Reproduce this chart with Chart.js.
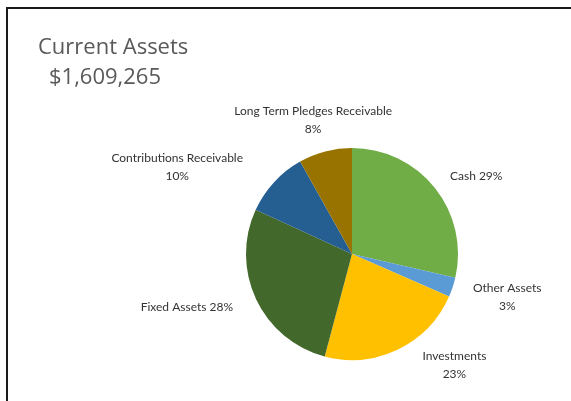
<!DOCTYPE html>
<html>
<head>
<meta charset="utf-8">
<script src="https://cdn.jsdelivr.net/npm/chart.js@4/dist/chart.umd.min.js"></script>
<style>
  html, body { margin: 0; padding: 0; background: #fff; }
  #wrap { position: relative; width: 571px; height: 401px; overflow: hidden; }
  #frame { position: absolute; left: 6px; top: 7px; width: 600px; height: 420px;
           border-left: 2px solid #1a1a1a; border-top: 2px solid #1a1a1a; }
  .ttl { position: absolute; font-family: "Open Sans", sans-serif; font-size: 22px;
         line-height: 30px; color: #595959; white-space: nowrap; }
  #t1 { left: 38px; top: 30px; }
  #t2 { left: 49px; top: 60px; }
  canvas { position: absolute; left: 0; top: 0; }
</style>
</head>
<body>
<div id="wrap">
  <div id="frame"></div>
  <canvas id="pie" width="571" height="401"></canvas>
  <div class="ttl" id="t1">Current Assets</div>
  <div class="ttl" id="t2"></div>
</div>
<script>
const categories = ['Cash', 'Other Assets', 'Investments', 'Fixed Assets', 'Contributions Receivable', 'Long Term Pledges Receivable'];
const amounts = [460265, 48000, 363000, 446000, 161000, 131000];
const sliceColors = ['#70AD47', '#5B9BD5', '#FFC000', '#43682B', '#255E91', '#997300'];

const total = amounts.reduce((a, b) => a + b, 0);
document.getElementById('t2').textContent = '$' + total.toLocaleString('en-US');

// label layout: single-line or two-line, and offset from the arc's outer midpoint
const labelInline = [true, false, false, true, false, false];
const labelNudge = [[35, -7], [47, 7], [53, 8], [-62, 5], [-91, -10], [-10, -24]];

const outsideLabels = {
  id: 'outsideLabels',
  afterDatasetsDraw(chart) {
    const ctx = chart.ctx;
    const meta = chart.getDatasetMeta(0);
    const data = chart.data.datasets[0].data;
    const sum = data.reduce((a, b) => a + b, 0);
    ctx.save();
    ctx.font = '12px Lato, sans-serif';
    ctx.fillStyle = '#333333';
    ctx.textAlign = 'center';
    ctx.textBaseline = 'middle';
    meta.data.forEach((arc, i) => {
      const mid = (arc.startAngle + arc.endAngle) / 2;
      const r = arc.outerRadius + 8;
      const x = arc.x + Math.cos(mid) * r + labelNudge[i][0];
      const y = arc.y + Math.sin(mid) * r + labelNudge[i][1];
      const pct = Math.round(data[i] / sum * 100) + '%';
      const name = chart.data.labels[i];
      if (labelInline[i]) {
        ctx.fillText(name + ' ' + pct, x, y);
      } else {
        ctx.fillText(name, x, y - 9);
        ctx.fillText(pct, x, y + 9);
      }
    });
    ctx.restore();
  }
};

new Chart(document.getElementById('pie').getContext('2d'), {
  type: 'pie',
  data: {
    labels: categories,
    datasets: [{
      data: amounts,
      backgroundColor: sliceColors,
      borderWidth: 0
    }]
  },
  options: {
    responsive: false,
    animation: false,
    layout: { padding: { left: 246, right: 113, top: 148, bottom: 41 } },
    plugins: {
      legend: { display: false },
      tooltip: { enabled: false }
    }
  },
  plugins: [outsideLabels]
});
</script>
</body>
</html>
